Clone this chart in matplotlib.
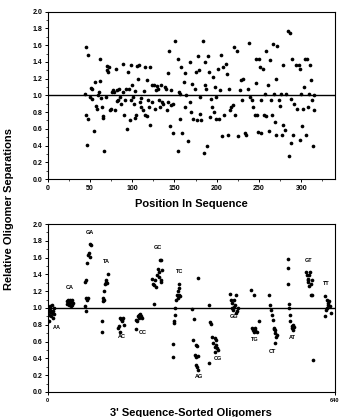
import matplotlib
matplotlib.use("Agg")
from matplotlib import pyplot as plt
from matplotlib.ticker import MultipleLocator

plt.rcParams['font.family'] = ['Liberation Sans', 'DejaVu Sans']
plt.rcParams['font.weight'] = 'bold'

# top panel: separation vs position in sequence
pos = [45, 48, 44.5, 45, 47, 48, 51, 53, 52, 50, 56, 55, 57, 58, 60, 60.6, 62, 62, 63, 64.5,
       65, 65.5, 67, 69, 70, 70.5, 71.7, 73, 73.6, 75, 76, 77.6, 79, 80, 81, 81.5, 82, 83.5,
       84.6, 85, 87, 88.6, 89, 90, 92, 93, 94, 95, 96.5, 97, 98, 99, 99.6, 101, 102, 103,
       103.5, 105, 105.5, 106.7, 107.5, 109, 110, 111, 113, 113.7, 114.6, 115, 117, 117.7,
       118.5, 120, 121, 121.6, 123, 125.6, 124, 127, 128, 129.5, 130.7, 132, 132.7, 134, 135,
       136.6, 138.6, 140.5, 141, 142, 142.5, 143.7, 145, 145.7, 146.5, 148, 148.4, 151, 154,
       154.7, 155.5, 156, 157, 158, 159, 161, 162, 163, 164, 166, 168, 168.5, 170, 171, 172,
       174, 176, 177, 178, 179.5, 180, 180.7, 182, 184, 184.6, 186, 186.6, 187.8, 189, 190,
       191, 191.7, 193, 194, 195.7, 197, 198, 199, 199.6, 201.6, 202.8, 203.5, 205.5, 206.7,
       207.5, 208.7, 210.6, 212, 213, 215, 216, 217, 219, 221, 222, 224, 225, 227, 228.7, 230,
       231, 233, 235, 237, 238.5, 240, 241.7, 243, 245, 246, 247, 248, 249, 250, 251, 252, 253,
       254.7, 256, 256.7, 258, 258.7, 260.6, 262, 262.6, 264.6, 265.7, 266.5, 267.7, 268.9,
       269.7, 270.5, 271.7, 273.6, 274.4, 275.6, 276.8, 278.3, 279, 280.7, 282, 284, 287, 285,
       287.5, 288, 289, 290, 292, 294, 295, 297, 298, 298.8, 300, 301, 302, 303, 305, 306.7,
       306, 308, 309, 310.6, 311.8, 312.6, 313.8, 314.6, 315.7]
sep = [1.58, 1.48, 1.02, 0.77, 0.41, 0.72, 1.09, 1.07, 0.96, 0.98, 1.16, 0.57, 0.87, 0.84, 1.0,
       1.04, 1.43, 1.17, 0.97, 0.86, 0.75, 0.73, 0.33, 0.98, 1.3, 1.35, 1.28, 1.34, 0.82, 0.84,
       1.04, 1.06, 1.04, 0.83, 1.32, 0.93, 1.06, 0.94, 1.07, 0.98, 0.9, 1.38, 1.04, 0.76, 0.94,
       1.08, 0.6, 1.28, 1.07, 0.71, 1.36, 0.94, 1.12, 0.98, 0.9, 1.05, 0.73, 0.76, 1.35, 1.19,
       1.36, 0.92, 0.97, 0.86, 0.82, 1.05, 1.34, 0.76, 1.18, 0.75, 0.94, 0.86, 0.65, 1.34, 1.12,
       1.12, 0.92, 0.84, 1.06, 1.11, 1.08, 0.94, 0.86, 1.12, 0.92, 0.9, 1.1, 1.07, 0.82, 1.27,
       0.92, 1.53, 0.63, 1.06, 0.88, 0.9, 0.55, 1.65, 0.33, 1.43, 1.04, 1.02, 0.72, 1.34, 0.55,
       1.16, 1.27, 0.86, 1.0, 0.45, 1.4, 0.92, 0.8, 1.14, 0.72, 1.08, 1.28, 0.7, 1.47, 1.3, 0.98,
       0.78, 0.71, 1.65, 0.31, 1.4, 1.12, 1.08, 0.39, 1.47, 1.28, 0.74, 0.96, 0.86, 1.22, 0.8,
       1.1, 0.72, 0.98, 1.32, 0.72, 1.06, 1.48, 0.51, 1.34, 0.76, 1.37, 1.26, 0.53, 1.08, 0.82,
       0.86, 0.88, 1.58, 0.76, 1.53, 0.51, 1.06, 1.18, 0.94, 1.2, 0.55, 0.53, 1.08, 1.63, 0.98,
       0.94, 0.86, 0.76, 1.43, 1.15, 0.76, 0.56, 1.43, 1.34, 0.94, 0.55, 1.31, 0.76, 1.02, 1.53,
       0.75, 1.12, 0.57, 1.42, 0.94, 0.76, 1.61, 1.02, 0.68, 1.19, 0.53, 1.59, 0.94, 0.87, 1.02,
       0.53, 1.36, 0.65, 0.59, 1.02, 1.77, 1.75, 0.27, 0.96, 0.43, 1.44, 0.53, 0.9, 1.36, 0.84,
       1.36, 0.47, 1.32, 1.02, 0.63, 0.84, 1.1, 1.44, 1.44, 0.53, 0.86, 1.02, 1.36, 1.18, 0.94,
       0.39, 0.83, 1.0]

# bottom panel: oligomers sorted by 3' dinucleotide
sorted_x = [1, 2, 3, 4, 5, 6, 7, 8, 9, 10, 11, 12, 13, 14, 0,
            42, 44, 45, 47, 48, 50, 51, 52, 54, 55, 57,
            82.7, 84.9, 86.3, 87.8, 90, 84, 86.3, 87.8, 90, 92.3, 93.7, 95.2, 96.7,
            121.8, 121.8, 123.2, 123.2, 124.7, 126.9, 129.2, 130.6, 132.1, 134.3, 125.5,
            157.2, 158.7, 161.6, 163.8, 166.1, 167.5, 169.0, 160.1, 164.6,
            195.6, 197, 200.7, 203, 205.9, 208.1, 210.3, 204.4, 198.5,
            237.6, 232.5, 234, 237.6, 241.3, 239.9, 242.8, 245, 247.2, 248.7, 250.2, 252.4,
            254.6, 253.1, 251.7,
            278.2, 279.7, 281.9, 281.9, 283.4, 284.1, 285.6, 287.1, 289.3, 291.5, 293, 290,
            293, 294.5,
            322.5, 326.2, 324.7, 329.9, 333.6, 328.4, 331.4, 334.3, 329.9, 332.8, 335.1, 335.8,
            359.8, 362, 362.8, 359.8, 365.7, 371.6, 374.5, 367.2, 371.6, 374.5, 376.8, 373.1,
            379,
            405.2, 407.4, 411.1, 414.8, 412.5, 417, 420, 421.4, 418.5, 422.9, 409.6, 414,
            452.9, 458.8, 455.1, 458.8, 462.7, 466.4, 470.1, 456.6, 461.1,
            493.7, 496, 498.2, 499.6, 501.1, 503.3, 505.5, 507, 508.5, 510.7, 507, 503.3,
            534.3, 535.8, 535.8, 537.3, 538, 539.5, 540.2, 543.2, 544.6, 546.1, 546.9, 547.6,
            574.9, 577.1, 579.3, 580.8, 583, 584.5, 586, 588.2, 582.3, 586.7, 589.7, 591.1,
            579.3,
            617.7, 621.4, 623.6, 625.1, 621.4, 619.2, 628.8, 617.7, 631, 626.6]
sorted_y = [0.98, 0.92, 0.85, 0.95, 1.0, 1.02, 0.9, 0.97, 1.03, 0.94, 0.88, 0.96, 1.0, 0.93, 0.84,
            1.05, 1.08, 1.1, 1.03, 1.06, 1.09, 1.02, 1.07, 1.1, 1.04, 1.06,
            1.02, 0.96, 1.12, 1.1, 1.12, 1.31, 1.33, 1.53, 1.63, 1.65, 1.61, 1.76, 1.75,
            0.71, 0.85, 1.08, 1.12, 1.2, 1.28, 1.33, 1.31, 1.3, 1.41, 1.09,
            0.76, 0.79, 0.88, 0.87, 0.86, 0.88, 0.8, 0.72, 0.85,
            0.75, 0.86, 0.9, 0.92, 0.93, 0.9, 0.88, 0.88, 0.84,
            1.05, 1.35, 1.29, 1.27, 1.25, 1.33, 1.39, 1.47, 1.43, 1.37, 1.57, 1.57,
            1.45, 1.33, 1.31,
            0.42, 0.57, 0.82, 0.85, 0.92, 1.0, 1.1, 1.16, 1.2, 1.24, 1.29, 1.12,
            1.16, 1.14,
            0.99, 0.87, 0.62, 0.56, 0.55, 0.44, 0.42, 0.43, 0.32, 0.3, 0.26, 1.36,
            1.03, 0.83, 0.81, 0.34, 0.66, 0.64, 0.62, 0.58, 0.54, 0.56, 0.52, 0.48,
            0.5,
            1.17, 1.1, 1.06, 1.01, 0.98, 1.04, 1.16, 0.96, 0.94, 1.0, 1.0, 1.1,
            1.21, 1.16, 0.76, 0.72, 0.74, 0.72, 0.84, 0.74, 0.76,
            1.16, 1.04, 0.98, 0.92, 0.86, 0.76, 0.74, 0.7, 0.66, 0.68, 0.58, 0.75,
            1.58, 1.48, 1.28, 1.05, 1.0, 0.92, 0.84, 0.79, 0.76, 0.8, 0.74, 0.77,
            1.43, 1.39, 1.35, 1.33, 1.39, 1.43, 1.28, 1.33, 1.26, 1.16, 1.16, 0.38,
            1.31,
            1.14, 1.1, 1.06, 1.03, 1.0, 0.98, 1.02, 0.9, 0.94, 1.08]

pair_labels = ['AA', 'CA', 'GA', 'TA', 'AC', 'CC', 'GC', 'TC',
               'AG', 'CG', 'GG', 'TG', 'CT', 'AT', 'GT', 'TT']
label_x = [21, 49, 94, 131, 165, 212, 245, 293, 336, 380, 415, 461, 501, 545, 581, 621]
label_y = [0.77, 1.25, 1.9, 1.55, 0.66, 0.71, 1.72, 1.43, 0.18, 0.4, 0.9, 0.62, 0.48, 0.65, 1.57, 1.29]

fig = plt.figure(figsize=(3.42, 4.17), dpi=100)
ax1 = fig.add_axes([0.1395, 0.5707, 0.840, 0.4013])
ax2 = fig.add_axes([0.1395, 0.060, 0.840, 0.4028])

for ax in (ax1, ax2):
    ax.axhline(1.0, color='black', linewidth=1.0, zorder=1)
    ax.set_ylim(0, 2.0)
    ax.yaxis.set_major_locator(MultipleLocator(0.2))
    ax.yaxis.set_minor_locator(MultipleLocator(0.1))
    ax.yaxis.set_major_formatter(plt.FormatStrFormatter('%.1f'))
    ax.tick_params(axis='both', which='major', labelsize=5, length=2.5, width=0.7, pad=1.5)
    ax.tick_params(axis='both', which='minor', length=1.5, width=0.5)
    for s in ax.spines.values():
        s.set_linewidth(0.8)

ax1.scatter(pos, sep, s=7, color='black', linewidths=0, zorder=2)
ax1.set_xlim(0, 340)
ax1.set_xticks([0, 50, 100, 150, 200, 250, 300])
ax1.xaxis.set_minor_locator(MultipleLocator(25))
ax1.set_xlabel('Position In Sequence', fontsize=8, fontweight='bold', labelpad=5)

ax2.scatter(sorted_x, sorted_y, s=7, color='black', linewidths=0, zorder=2)
for t, x, y in zip(pair_labels, label_x, label_y):
    ax2.text(x, y, t, fontsize=4, fontweight='bold', ha='center', va='center')
ax2.set_xlim(0, 640)
ax2.set_xticks([0, 640])
ax2.tick_params(axis='x', labelsize=4)
ax2.set_xlabel("3' Sequence-Sorted Oligomers", fontsize=8, fontweight='bold', labelpad=4)

fig.text(0.025, 0.5, 'Relative Oligomer Separations', rotation=90, fontsize=8,
         fontweight='bold', ha='center', va='center')

fig.savefig('out.png', dpi=100)
